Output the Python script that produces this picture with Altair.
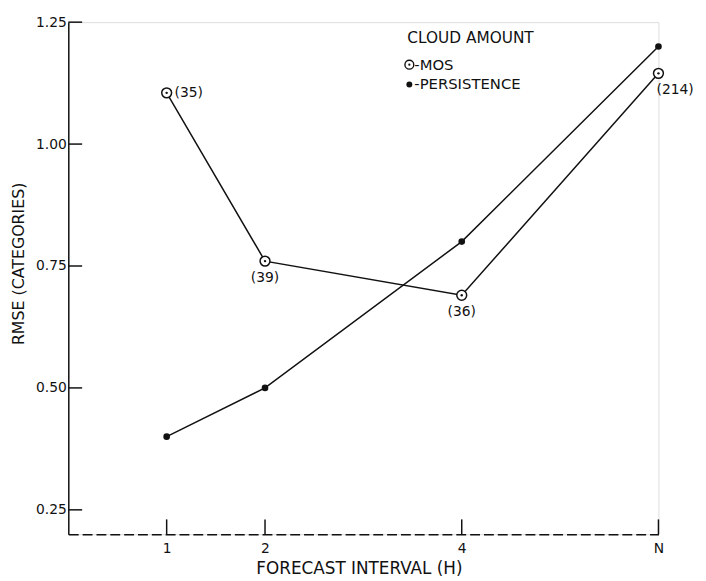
import altair as alt
import pandas as pd

# ---- data ----
x_values = [1, 2, 4, 6]
x_labels = ["1", "2", "4", "N"]
mos_rmse = [1.105, 0.76, 0.69, 1.145]
persistence_rmse = [0.40, 0.50, 0.80, 1.20]
mos_counts = ["(35)", "(39)", "(36)", "(214)"]
y_ticks = [0.25, 0.50, 0.75, 1.00, 1.25]
legend_title = "CLOUD AMOUNT"
legend_series = ["MOS", "PERSISTENCE"]

mos = pd.DataFrame({"x": x_values, "rmse": mos_rmse, "count": mos_counts})
pers = pd.DataFrame({"x": x_values, "rmse": persistence_rmse})
yt = pd.DataFrame({"rmse": y_ticks})
xt = pd.DataFrame({"x": x_values})

FONT = "DejaVu Sans"
INK = "#111111"

label_expr = " : ".join(
    f"datum.value == {v} ? '{l}'" for v, l in zip(x_values, x_labels)
) + " : datum.label"

x_scale = alt.Scale(domain=[0, 6], nice=False, zero=False)
y_scale = alt.Scale(domain=[0.2, 1.25], nice=False, zero=False)

x_axis = alt.Axis(
    values=x_values, labelExpr=label_expr, tickSize=0, grid=False,
    domainColor=INK, domainWidth=1.5, domainDash=[10, 4],
    labelFont=FONT, labelFontSize=14, labelColor=INK, labelPadding=7,
    labelFlush=False, labelOverlap=False,
    title="FORECAST INTERVAL (H)", titleFont=FONT, titleFontSize=17,
    titleFontWeight="normal", titleColor=INK, titleBaseline="alphabetic",
    titleY=40, titleX=294, titleAlign="center", titleAnchor="start",
)
y_axis = alt.Axis(
    values=y_ticks, format=".2f", tickSize=0, grid=False,
    domainColor=INK, domainWidth=1.5,
    labelFont=FONT, labelFontSize=14, labelColor=INK, labelPadding=2,
    labelFlush=False, labelOverlap=False,
    title="RMSE (CATEGORIES)", titleFont=FONT, titleFontSize=16,
    titleFontWeight="normal", titleColor=INK, titleAngle=270,
    titleBaseline="middle", titleAlign="center", titleX=-50, titleY=244,
    titleAnchor="start",
)

X = lambda: alt.X("x:Q", scale=x_scale, axis=x_axis)
Y = lambda: alt.Y("rmse:Q", scale=y_scale, axis=y_axis)

pers_line = alt.Chart(pers).mark_line(color=INK, strokeWidth=1.5).encode(x=X(), y=Y())
mos_line = alt.Chart(mos).mark_line(color=INK, strokeWidth=1.5).encode(x=X(), y=Y())
pers_pts = alt.Chart(pers).mark_circle(color=INK, size=45, opacity=1).encode(x=X(), y=Y())
mos_pts = alt.Chart(mos).mark_point(
    shape="circle", filled=True, fill="white", stroke=INK, strokeWidth=1.5,
    size=100, opacity=1).encode(x=X(), y=Y())
mos_dots = alt.Chart(mos).mark_circle(color=INK, size=6, opacity=1).encode(x=X(), y=Y())

txt = dict(font=FONT, fontSize=14, color=INK)
lab_right = alt.Chart(mos).transform_filter("datum.x == 1").mark_text(
    align="left", baseline="middle", dx=8, **txt).encode(x=X(), y=Y(), text="count:N")
lab_below = alt.Chart(mos).transform_filter("datum.x == 2 || datum.x == 4").mark_text(
    align="center", baseline="middle", dy=17, **txt).encode(x=X(), y=Y(), text="count:N")
lab_last = alt.Chart(mos).transform_filter("datum.x == 6").mark_text(
    align="left", baseline="middle", dx=-2, dy=17, **txt).encode(x=X(), y=Y(), text="count:N")

y_tick_marks = alt.Chart(yt).mark_rule(color=INK, strokeWidth=1.5).encode(
    y=Y(), x=alt.value(0), x2=alt.value(14))
x_tick_marks = alt.Chart(xt).mark_rule(color=INK, strokeWidth=1.5).encode(
    x=X(), y=alt.value(518), y2=alt.value(503))

# ---- hand-drawn style legend ----
leg_title = alt.Chart(pd.DataFrame({"t": [legend_title]})).mark_text(
    align="left", baseline="middle", font=FONT, fontSize=15.5, color=INK).encode(
    text="t:N", x=alt.value(343), y=alt.value(16))
leg_mos_txt = alt.Chart(pd.DataFrame({"t": [legend_series[0]]})).transform_calculate(
    lbl="'-' + datum.t").mark_text(
    align="left", baseline="middle", font=FONT, fontSize=15, color=INK).encode(
    text="lbl:N", x=alt.value(350), y=alt.value(43))
leg_pers_txt = alt.Chart(pd.DataFrame({"t": [legend_series[1]]})).transform_calculate(
    lbl="'-' + datum.t").mark_text(
    align="left", baseline="middle", font=FONT, fontSize=15, color=INK).encode(
    text="lbl:N", x=alt.value(350), y=alt.value(63))
leg_mos_sym = alt.Chart(pd.DataFrame({"t": [legend_series[0]]})).mark_point(
    shape="circle", filled=True, fill="white", stroke=INK, strokeWidth=1.4,
    size=80, opacity=1).encode(x=alt.value(345), y=alt.value(43))
leg_mos_dot = alt.Chart(pd.DataFrame({"t": [legend_series[0]]})).mark_circle(
    color=INK, size=5, opacity=1).encode(x=alt.value(345), y=alt.value(43))
leg_pers_sym = alt.Chart(pd.DataFrame({"t": [legend_series[1]]})).mark_circle(
    color=INK, size=36, opacity=1).encode(x=alt.value(345), y=alt.value(63))

chart = alt.layer(
    pers_line, mos_line, y_tick_marks, x_tick_marks,
    pers_pts, mos_pts, mos_dots, lab_right, lab_below, lab_last,
    leg_title, leg_mos_txt, leg_pers_txt, leg_mos_sym, leg_mos_dot, leg_pers_sym,
).properties(
    width=597, height=518,
    autosize=alt.AutoSizeParams(type="none"),
    padding={"left": 61, "top": 11, "right": 40, "bottom": 44},
).configure_view(strokeWidth=0).configure(background="white")

chart.save("out.html", embed_options={"renderer": "svg", "actions": False})
